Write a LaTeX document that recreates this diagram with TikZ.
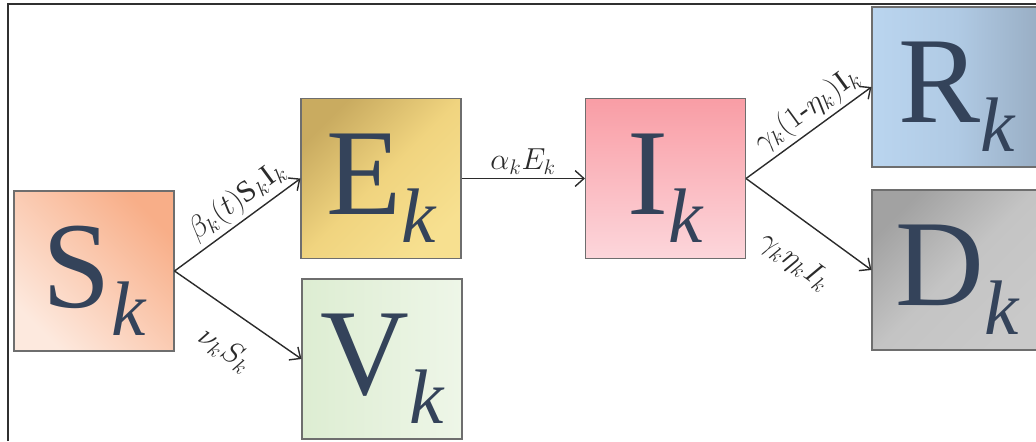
\documentclass[tikz,border=0pt]{standalone}
\usepackage{fontspec}
\setmainfont{Liberation Serif}
\usetikzlibrary{arrows.meta}

\definecolor{letter}{HTML}{34435A}
\definecolor{boxline}{HTML}{6E6E6E}
\definecolor{arrowc}{HTML}{2B2B2B}
\definecolor{frame}{HTML}{303030}
\definecolor{sfill1}{HTML}{F8AE88}
\definecolor{sfill2}{HTML}{FDE9DE}
\definecolor{efill1}{HTML}{C9AB60}
\definecolor{efill2}{HTML}{F0D47F}
\definecolor{efill3}{HTML}{F7E090}
\definecolor{vfill1}{HTML}{DDEDD2}
\definecolor{vfill2}{HTML}{EEF6E8}
\definecolor{ifill1}{HTML}{F99DA5}
\definecolor{ifill2}{HTML}{FCD6DB}
\definecolor{rfill1}{HTML}{BAD5EF}
\definecolor{rfill2}{HTML}{B0CAE4}
\definecolor{rfill3}{HTML}{98ADC3}
\definecolor{dfill1}{HTML}{A2A2A2}
\definecolor{dfill2}{HTML}{C4C4C4}
\definecolor{dfill3}{HTML}{C9C9C9}

\newcommand{\subk}{\raisebox{-16pt}[0pt][5pt]{\fontsize{44}{44}\selectfont\itshape k}}

\begin{document}
\begin{tikzpicture}[
  comp/.style={draw=boxline, line width=0.6pt, minimum width=3.2cm, minimum height=3.2cm,
    inner sep=0pt, text=letter, font=\fontsize{70}{70}\selectfont},
  flow/.style={-{Straight Barb[length=5pt,width=9pt]}, line width=0.8pt, draw=arrowc},
  rate/.style={font=\LARGE, text=arrowc, sloped, inner sep=2pt}
]

%%% 枠
\useasboundingbox (0,0) rectangle (20.72,-8.82);
\clip (0,0) rectangle (20.72,-8.82);
\draw[line width=0.8pt, color=frame] (0.16,-8.82) -- (0.16,-0.08) -- (20.72,-0.08);

%% 区画
\node[comp, top color=sfill1, bottom color=sfill2, shading angle=-45] (S) at (1.88,-5.42) {S\subk};
\node[comp, top color=efill1, bottom color=efill3, middle color=efill2, shading angle=45] (E) at (7.62,-3.57) {E\subk};
\node[comp, left color=vfill1, right color=vfill2] (V) at (7.64,-7.18) {V\subk};
\node[comp, top color=ifill1, bottom color=ifill2] (I) at (13.31,-3.57) {I\subk};
\node[comp, minimum width=3.4cm, left color=rfill1, right color=rfill3, middle color=rfill2] (R) at (19.14,-1.74) {R\subk};
\node[comp, minimum width=3.4cm, top color=dfill1, bottom color=dfill3, middle color=dfill2, shading angle=45] (D) at (19.14,-5.40) {D\subk};

%% 遷移
\draw[flow] (S.east) -- (E.west) node[rate, pos=0.59, above] {$\beta_k(t)\mathrm{S}_k\mathrm{I}_k$};
\draw[flow] (S.east) -- (V.west) node[rate, pos=0.56, below=11pt] {$\nu_k S_k$};
\draw[flow] (E.east) -- (I.west) node[rate, midway, above] {$\alpha_k E_k$};
\draw[flow] (I.east) -- (R.west) node[rate, pos=0.58, above] {$\gamma_k(1\mbox{-}\eta_k)\mathrm{I}_k$};
\draw[flow] (I.east) -- (D.west) node[rate, pos=0.57, below=12pt] {$\gamma_k\eta_k I_k$};

\end{tikzpicture}
\end{document}
